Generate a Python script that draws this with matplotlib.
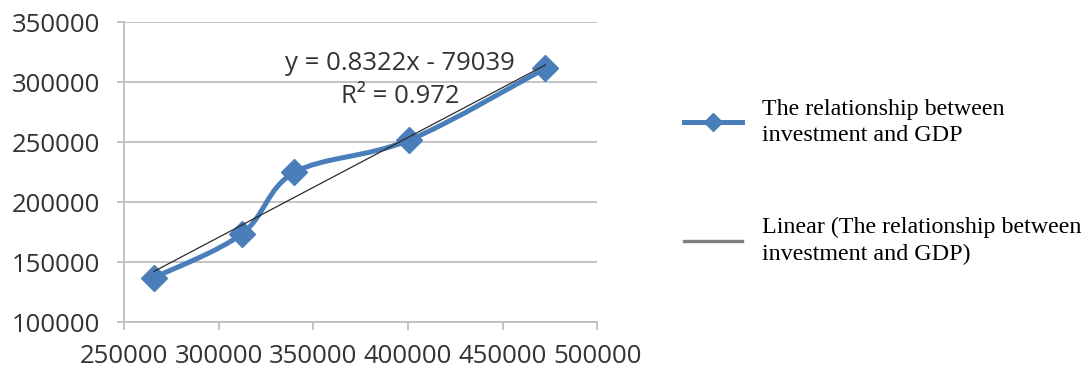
import numpy as np
import matplotlib
matplotlib.use("Agg")
import matplotlib.pyplot as plt
from matplotlib.path import Path
from matplotlib.patches import PathPatch
from matplotlib.lines import Line2D

# Investment (x) vs GDP (y)
investment = [265800, 312100, 340000, 400500, 472600]
gdp = [137000, 173200, 224700, 251500, 311500]

# Linear trendline as reported
slope = 0.8322
intercept = -79039
r_squared = 0.972

x_ticks = [250000, 300000, 350000, 400000, 450000, 500000]
y_ticks = [100000, 150000, 200000, 250000, 300000, 350000]

series_label = "The relationship between\ninvestment and GDP"
trend_label = "Linear (The relationship between\ninvestment and GDP)"

blue = "#4A7EBB"
grid_gray = "#BFBFBF"
tick_font = "Open Sans"
tick_size = 18.5

fig = plt.figure(figsize=(10.88, 3.74), dpi=100)
ax = fig.add_axes([0.114, 0.139, 0.435, 0.802])

ax.set_xlim(x_ticks[0], x_ticks[-1])
ax.set_ylim(y_ticks[0], y_ticks[-1])
ax.set_xticks(x_ticks)
ax.set_yticks(y_ticks)
ax.set_xticklabels([str(v) for v in x_ticks])
ax.set_yticklabels([str(v) for v in y_ticks])

ax.yaxis.grid(True, color=grid_gray, linewidth=1.3)
ax.set_axisbelow(True)
for side in ("top", "right"):
    ax.spines[side].set_visible(False)
for side in ("left", "bottom"):
    ax.spines[side].set_color(grid_gray)
    ax.spines[side].set_linewidth(1.3)
ax.tick_params(axis="both", direction="out", color=grid_gray, width=1.3,
               labelcolor="#333333", labelsize=tick_size)
ax.tick_params(axis="x", length=6, pad=10)
ax.tick_params(axis="y", length=5, pad=12)
for lbl in ax.get_xticklabels() + ax.get_yticklabels():
    lbl.set_fontfamily(tick_font)

# Smoothed series (cubic Bezier through points, Catmull-Rom style control points)
pts = np.column_stack([investment, gdp]).astype(float)
n = len(pts)
verts = [pts[0]]
codes = [Path.MOVETO]
t = 1.0 / 6.0
for i in range(n - 1):
    p0 = pts[i - 1] if i > 0 else pts[i]
    p1 = pts[i]
    p2 = pts[i + 1]
    p3 = pts[i + 2] if i + 2 < n else pts[i + 1]
    c1 = p1 + (p2 - p0) * t
    c2 = p2 - (p3 - p1) * t
    verts += [c1, c2, p2]
    codes += [Path.CURVE4] * 3
curve = PathPatch(Path(verts, codes), facecolor="none", edgecolor=blue,
                  linewidth=3.6, capstyle="round", joinstyle="round", zorder=3)
ax.add_patch(curve)
ax.plot(investment, gdp, linestyle="none", marker="D", markersize=13,
        color=blue, zorder=4)

# Trendline
tx = np.array([min(investment), max(investment)])
ax.plot(tx, slope * tx + intercept, color="#2b2b2b", linewidth=0.9, zorder=5)

ax.text(0.583, 0.863, f"y = {slope}x - {-intercept}", transform=ax.transAxes,
        ha="center", va="center", fontsize=tick_size, family=tick_font, color="#333333")
ax.text(0.583, 0.752, f"R² = {r_squared}", transform=ax.transAxes,
        ha="center", va="center", fontsize=tick_size, family=tick_font, color="#333333")

handles = [
    Line2D([], [], color=blue, linewidth=3.6, marker="D", markersize=9),
    Line2D([], [], color="#808080", linewidth=2.4),
]
leg = fig.legend(handles, [series_label, trend_label], loc="upper left",
                 bbox_to_anchor=(0.629, 0.736), frameon=False,
                 prop={"family": "Liberation Serif", "size": 17.3},
                 handlelength=2.4, handletextpad=0.83, labelspacing=2.95,
                 borderpad=0, borderaxespad=0)
for txt in leg.get_texts():
    txt.set_linespacing(1.35)

fig.savefig("out.png", dpi=100)
